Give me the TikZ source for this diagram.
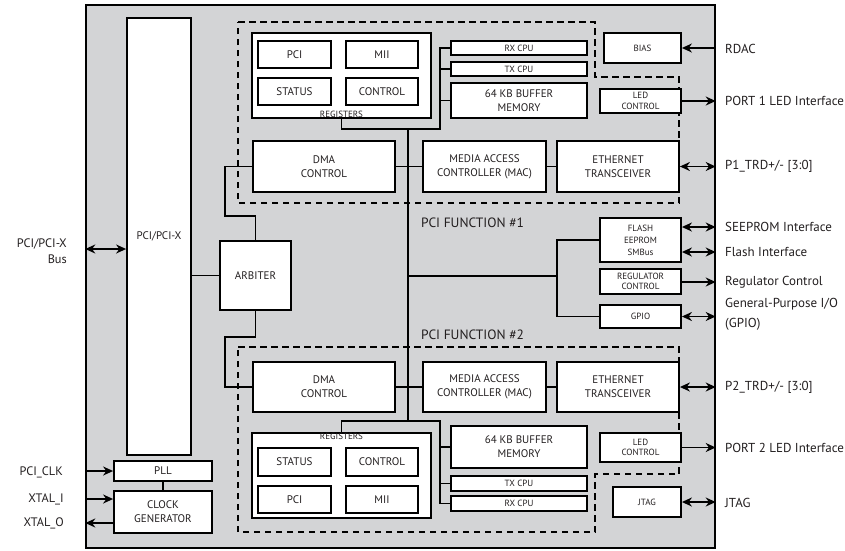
\documentclass[tikz,border=0pt]{standalone}
\usepackage{fontspec}
\setmainfont{PT Sans}
\usetikzlibrary{arrows.meta,positioning}
\definecolor{chipgray}{RGB}{211,212,214}
\definecolor{inkgray}{RGB}{35,31,32}

\begin{document}
\begin{tikzpicture}[x=1pt,y=-1pt,
  chip/.style={draw,line width=1.4pt,fill=chipgray,inner sep=0pt},
  blk/.style={draw,line width=1.8pt,fill=white,inner sep=0pt,align=center,text=inkgray},
  sz/.style 2 args={minimum width=#1,minimum height=#2},
  bigtxt/.style={font=\fontsize{11}{14}\selectfont},
  tinytxt/.style={font=\fontsize{9}{10.5}\selectfont},
  wire/.style={line width=1.8pt},
  func/.style={line width=1.8pt,dash pattern=on 6.5pt off 4.5pt},
  arr/.style={wire,-{Stealth[length=10pt,width=9pt]}},
  biarr/.style={wire,{Stealth[length=10pt,width=9pt]}-{Stealth[length=10pt,width=9pt]}},
  extlbl/.style={font=\fontsize{13}{20}\selectfont,text=inkgray,inner sep=0pt,anchor=west},
  pinlbl/.style={font=\fontsize{12.3}{16}\selectfont,text=inkgray,inner sep=0pt,anchor=east},
  funclbl/.style={font=\fontsize{13.5}{16}\selectfont,text=inkgray,inner sep=0pt,anchor=west},
]
\useasboundingbox (0,0) rectangle (845,550);

\node[chip,sz={629}{543}] (chip) at (400.5,276.5) {};

\draw[func] (238,22) -- (595,22) -- (595,77) -- (679,77) -- (679,203) -- (238,203) -- cycle;
\draw[func] (238,347) -- (679,347) -- (679,474) -- (595,474) -- (595,532) -- (238,532) -- cycle;

\node[funclbl] (func1) at (421,223) {PCI FUNCTION \#1};
\node[funclbl] (func2) at (421,335) {PCI FUNCTION \#2};

\node[blk,bigtxt,sz={64}{437}] (pcix) at (159,236.5) {PCI/PCI-X};
\node[blk,bigtxt,sz={71}{69}] (arb) at (255.5,275.5) {ARBITER};
\node[blk,bigtxt,sz={98}{20}] (pll) at (163,471) {PLL};
\node[blk,bigtxt,sz={98}{42}] (clk) at (163,512) {CLOCK\\GENERATOR};

% function 1
\node[blk,sz={179}{85}] (reg1) at (341.5,75.5) {};
\node[tinytxt,text=inkgray,inner sep=1pt,above=0pt of reg1.south] (reg1lbl) {REGISTERS};
\node[blk,bigtxt,sz={73}{27}] (pci1) at (294.5,54.5) {PCI};
\node[blk,bigtxt,sz={72}{27}] (mii1) at (382,54.5) {MII};
\node[blk,bigtxt,sz={73}{27}] (stat1) at (294.5,91.5) {STATUS};
\node[blk,bigtxt,sz={72}{27}] (ctrl1) at (382,91.5) {CONTROL};
\node[blk,tinytxt,sz={136}{14}] (rx1) at (519,48) {RX CPU};
\node[blk,tinytxt,sz={136}{14}] (tx1) at (519,69) {TX CPU};
\node[blk,bigtxt,sz={136}{35}] (buf1) at (519,100.5) {64 KB BUFFER\\MEMORY};
\node[blk,bigtxt,sz={142}{51}] (dma1) at (324,166.5) {DMA\\CONTROL};
\node[blk,bigtxt,sz={123}{51}] (mac1) at (484.5,166.5) {MEDIA ACCESS\\CONTROLLER (MAC)};
\node[blk,bigtxt,sz={122}{51}] (eth1) at (618,166.5) {ETHERNET\\TRANSCEIVER};
\node[blk,tinytxt,sz={77}{30}] (bias) at (642.5,48) {BIAS};
\node[blk,tinytxt,sz={81}{24}] (led1) at (640.5,101) {LED\\CONTROL};

% shared blocks
\node[blk,tinytxt,font=\fontsize{9}{12}\selectfont,sz={81}{44}] (flash) at (640.5,240) {FLASH\\EEPROM\\SMBus};
\node[blk,tinytxt,sz={81}{25}] (regc) at (640.5,281.5) {REGULATOR\\CONTROL};
\node[blk,tinytxt,sz={81}{23}] (gpio) at (640.5,316.5) {GPIO};

% function 2
\node[blk,bigtxt,sz={142}{50}] (dma2) at (324,387) {DMA\\CONTROL};
\node[blk,bigtxt,sz={123}{50}] (mac2) at (484.5,387) {MEDIA ACCESS\\CONTROLLER (MAC)};
\node[blk,bigtxt,sz={122}{50}] (eth2) at (618,387) {ETHERNET\\TRANSCEIVER};
\node[blk,sz={179}{85}] (reg2) at (341.5,475.5) {};
\node[tinytxt,text=inkgray,inner sep=1pt,below=0pt of reg2.north] (reg2lbl) {REGISTERS};
\node[blk,bigtxt,sz={73}{28}] (stat2) at (294.5,462) {STATUS};
\node[blk,bigtxt,sz={72}{28}] (ctrl2) at (382,462) {CONTROL};
\node[blk,bigtxt,sz={73}{27}] (pci2) at (294.5,499.5) {PCI};
\node[blk,bigtxt,sz={72}{27}] (mii2) at (382,499.5) {MII};
\node[blk,bigtxt,sz={136}{42}] (buf2) at (519,447) {64 KB BUFFER\\MEMORY};
\node[blk,tinytxt,sz={136}{15}] (tx2) at (519,483.5) {TX CPU};
\node[blk,tinytxt,sz={136}{15}] (rx2) at (519,503.5) {RX CPU};
\node[blk,tinytxt,sz={81}{29}] (led2) at (640.5,447.5) {LED\\CONTROL};
\node[blk,tinytxt,sz={68}{30}] (jtag) at (647,502) {JTAG};

% internal wiring
\coordinate (bustop) at (408,129);
\coordinate (busbot) at (408,421);
\coordinate (tap1) at (440,129);
\coordinate (tap2) at (440,421);
\coordinate (hub) at (557,276);

\draw[wire] (bustop) -- (busbot);
\draw[wire] (reg1.south) |- (tap1) |- (rx1.west);
\draw[wire] (tx1.west -| tap1) -- (tx1.west);
\draw[wire] (buf1.west -| tap1) -- (buf1.west);
\draw[wire] (reg2.north) |- (tap2) |- (rx2.west);
\draw[wire] (tx2.west -| tap2) -- (tx2.west);
\draw[wire] (buf2.west -| tap2) -- (buf2.west);

\draw[wire] (dma1) -- (mac1);
\draw[wire] (mac1) -- (eth1);
\draw[wire] (dma2) -- (mac2);
\draw[wire] (mac2) -- (eth2);

\draw[wire] (pcix.east |- arb.west) -- (arb.west);
\draw[wire] (arb.north) |- (225,216) |- (dma1.west);
\draw[wire] (arb.south) |- (225,337) |- (dma2.west);

\draw[wire] (hub -| bustop) -- (hub);
\draw[wire] (flash.west) -| (hub) |- (gpio.west);
\draw[wire] (pll) -- (clk);

% external pins
\node[extlbl] (rdac) at (725,49) {RDAC};
\node[extlbl] (port1) at (725,101) {PORT 1 LED Interface};
\node[extlbl] (p1trd) at (725,166.5) {P1\_TRD+/- [3:0]};
\node[extlbl] (seep) at (725,227) {SEEPROM Interface};
\node[extlbl] (flif) at (725,252) {Flash Interface};
\node[extlbl] (regl) at (725,282) {Regulator Control};
\node[extlbl,align=left] (gpiol) at (725,314) {General-Purpose I/O\\(GPIO)};
\node[extlbl] (p2trd) at (725,387) {P2\_TRD+/- [3:0]};
\node[extlbl] (port2) at (725,447.5) {PORT 2 LED Interface};
\node[extlbl] (jtagl) at (725,503) {JTAG};

\draw[arr] (bias.east -| chip.east) -- (bias.east);
\draw[arr] (led1.east) -- (led1.east -| chip.east);
\draw[biarr] (eth1.east) -- (eth1.east -| chip.east);
\draw[biarr] (flash.east |- seep) -- (chip.east |- seep);
\draw[biarr] (flash.east |- flif) -- (chip.east |- flif);
\draw[arr] (regc.east |- regl) -- (chip.east |- regl);
\draw[biarr] (gpio.east) -- (gpio.east -| chip.east);
\draw[biarr] (eth2.east) -- (eth2.east -| chip.east);
\draw[arr] (led2.east) -- (led2.east -| chip.east);
\draw[biarr] (jtag.east) -- (jtag.east -| chip.east);

\node[pinlbl,align=right] (pcibus) at (67,251) {PCI/PCI-X\\Bus};
\node[pinlbl] (pciclk) at (63,472) {PCI\_CLK};
\node[pinlbl] (xtali) at (64,499) {XTAL\_I};
\node[pinlbl] (xtalo) at (64,523) {XTAL\_O};

\draw[biarr] (chip.west |- 0,249) -- (pcix.west |- 0,249);
\draw[arr] (chip.west |- pll.west) -- (pll.west);
\draw[arr] (chip.west |- xtali) -- (clk.west |- xtali);
\draw[arr] (clk.west |- xtalo) -- (chip.west |- xtalo);

\end{tikzpicture}
\end{document}
